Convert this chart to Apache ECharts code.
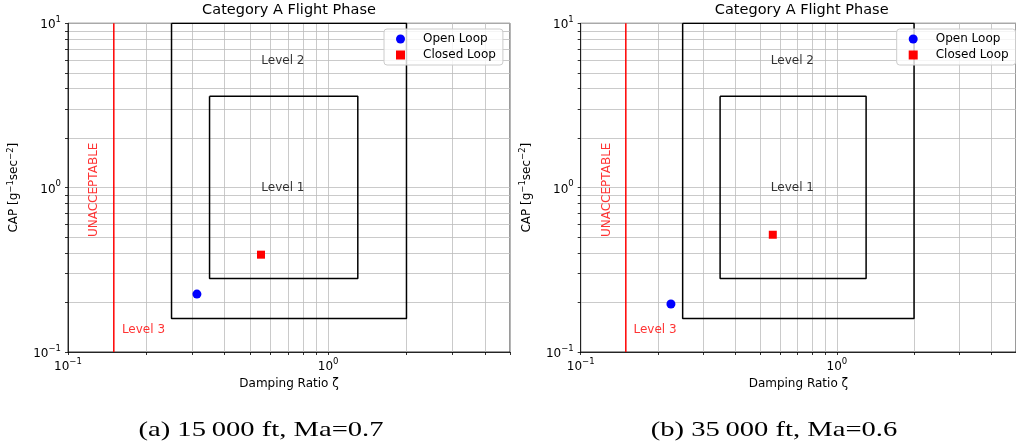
<!DOCTYPE html>
<html>
<head>
<meta charset="utf-8">
<script src="https://cdn.jsdelivr.net/npm/echarts@6/dist/echarts.min.js"></script>
<style>
  html, body { margin: 0; padding: 0; background: #fff; }
  #chart { width: 1016px; height: 448px; }
</style>
</head>
<body>
<div id="chart"></div>
<script>
// Tick positions (log axes: majors at decades, minors at 2..9 × decade)
const zetaTickValues = [0.1, 0.2, 0.3, 0.4, 0.5, 0.6, 0.7, 0.8, 0.9, 1, 2, 3, 4, 5];
const capTickValues = [0.1, 0.2, 0.3, 0.4, 0.5, 0.6, 0.7, 0.8, 0.9, 1, 2, 3, 4, 5, 6, 7, 8, 9, 10];
const zetaLabelValues = [0.1, 1];
const capLabelValues = [0.1, 1, 10];
const zetaRange = [0.1, 5];
const capRange = [0.1, 10];

// Flying-quality level boundaries (Category A)
const level1Zeta = [0.35, 1.30];
const level1Cap = [0.28, 3.6];
const level2Zeta = [0.25, 2.0];
const level2Cap = [0.16, 10];
const level3Zeta = 0.15;

// Operating points per flight condition: [damping ratio, CAP]
const openLoopA = [0.313, 0.225];
const closedLoopA = [0.552, 0.391];
const openLoopB = [0.225, 0.196];
const closedLoopB = [0.562, 0.517];

// Region annotations: [text, zeta, CAP, colour]
const levelLabels = [
  ['Level 2', 0.67, 5.9, '#000000'],
  ['Level 1', 0.67, 1.0, '#000000'],
  ['Level 3', 0.195, 0.136, '#ff0000']
];
const unacceptableLabel = ['UNACCEPTABLE', 0.126, 0.97];

const panelTitle = 'Category A Flight Phase';
const panelCaptions = ['(a) 15\u2009000 ft, Ma=0.7', '(b) 35\u2009000 ft, Ma=0.6'];
const xAxisTitle = 'Damping Ratio \u03b6';
const yAxisTitle = 'CAP [g{s|\u22121}sec{s|\u22122}]';

const FONT = 'DejaVu Sans';
const panels = [
  { left: 68, open: openLoopA, closed: closedLoopA, caption: panelCaptions[0], captionX: 261 },
  { left: 580.7, open: openLoopB, closed: closedLoopB, caption: panelCaptions[1], captionX: 774 }
];
const PLOT_W = 442, PLOT_TOP = 23.3, PLOT_H = 328.7;

function rectPath(xs, ys) {
  return [[xs[0], ys[1]], [xs[0], ys[0]], [xs[1], ys[0]], [xs[1], ys[1]], [xs[0], ys[1]]];
}
function powLabel(v) {
  const e = Math.round(Math.log10(v));
  return '{b|10}{s|' + (e < 0 ? '\u2212' + (-e) : String(e)) + '}';
}
const powRich = {
  b: { fontSize: 12, lineHeight: 16, fontFamily: FONT, color: '#000', verticalAlign: 'bottom' },
  s: { fontSize: 8.5, lineHeight: 10, fontFamily: FONT, color: '#000', verticalAlign: 'top' }
};
const nameRich = {
  s: { fontSize: 8.5, lineHeight: 10, fontFamily: FONT, color: '#000', verticalAlign: 'top' }
};
const gridLine = { show: true, lineStyle: { color: '#bdbdbd', width: 0.8 } };

const grid = [], xAxis = [], yAxis = [], series = [], title = [], legend = [], graphic = [];

panels.forEach((p, i) => {
  grid.push({
    left: p.left, top: PLOT_TOP, width: PLOT_W, height: PLOT_H,
    show: true, borderColor: '#000', borderWidth: 0.8, backgroundColor: '#fff'
  });
  xAxis.push({
    type: 'log', logBase: 10, gridIndex: i, min: zetaRange[0], max: zetaRange[1],
    name: xAxisTitle, nameLocation: 'middle', nameGap: 26,
    nameTextStyle: { fontSize: 12, fontFamily: FONT, color: '#000' },
    axisLine: { show: true, lineStyle: { color: '#000', width: 0.8 } },
    axisTick: { show: true, length: 3, customValues: zetaTickValues, lineStyle: { color: '#000', width: 0.8 } },
    axisLabel: { customValues: zetaLabelValues, margin: 5, formatter: powLabel, rich: powRich },
    splitLine: gridLine
  });
  yAxis.push({
    type: 'log', logBase: 10, gridIndex: i, min: capRange[0], max: capRange[1],
    name: yAxisTitle, nameLocation: 'middle', nameGap: 46,
    nameTextStyle: { fontSize: 12, lineHeight: 16, fontFamily: FONT, color: '#000', verticalAlign: 'bottom', rich: nameRich },
    axisLine: { show: true, lineStyle: { color: '#000', width: 0.8 } },
    axisTick: { show: true, length: 3, customValues: capTickValues, lineStyle: { color: '#000', width: 0.8 } },
    axisLabel: { customValues: capLabelValues, margin: 7, formatter: powLabel, rich: powRich },
    splitLine: gridLine
  });
  title.push({
    text: panelTitle, left: p.left + PLOT_W / 2, top: 3, textAlign: 'center', padding: 0,
    textStyle: { fontSize: 14.5, fontWeight: 'normal', fontFamily: FONT, color: '#000' }
  });
  legend.push({
    data: ['Open Loop', 'Closed Loop'],
    left: p.left + 316, top: 29, orient: 'vertical',
    itemWidth: 9, itemHeight: 9, itemGap: 4,
    padding: [4, 7, 4, 12],
    backgroundColor: 'rgba(255,255,255,0.8)', borderColor: '#cccccc', borderWidth: 1, borderRadius: 3,
    textStyle: { fontSize: 12, fontFamily: FONT, color: '#000', padding: [0, 0, 0, 13] },
    selectedMode: false
  });
  const axes = { xAxisIndex: i, yAxisIndex: i };
  series.push(
    Object.assign({ type: 'line', data: rectPath(level2Zeta, level2Cap), symbol: 'none', silent: true,
      lineStyle: { color: '#000', width: 1.5 }, z: 3 }, axes),
    Object.assign({ type: 'line', data: rectPath(level1Zeta, level1Cap), symbol: 'none', silent: true,
      lineStyle: { color: '#000', width: 1.5 }, z: 3 }, axes),
    Object.assign({ type: 'line', data: [[level3Zeta, capRange[0]], [level3Zeta, capRange[1]]], symbol: 'none', silent: true,
      lineStyle: { color: '#ff0000', width: 1.5 }, z: 3 }, axes),
    Object.assign({ type: 'scatter', symbolSize: 0, silent: true, z: 4,
      data: levelLabels.map(l => ({ value: [l[1], l[2]], name: l[0], label: { color: l[3] } })),
      label: { show: true, position: 'inside', formatter: d => d.name, fontSize: 12, fontFamily: FONT } }, axes),
    Object.assign({ type: 'scatter', symbolSize: 0, silent: true, z: 4,
      data: [{ value: [unacceptableLabel[1], unacceptableLabel[2]], name: unacceptableLabel[0] }],
      label: { show: true, position: 'inside', rotate: 90, formatter: d => d.name, fontSize: 12, fontFamily: FONT,
        color: '#ff0000' } }, axes),
    Object.assign({ name: 'Open Loop', type: 'scatter', data: [p.open], symbol: 'circle', symbolSize: 9,
      itemStyle: { color: '#0000ff', opacity: 1 }, z: 5 }, axes),
    Object.assign({ name: 'Closed Loop', type: 'scatter', data: [p.closed], symbol: 'rect', symbolSize: 8,
      itemStyle: { color: '#ff0000', opacity: 1 }, z: 5 }, axes)
  );
  graphic.push({
    type: 'text', x: p.captionX, y: 430, scaleX: 1.3,
    style: { text: p.caption, font: '22px "Liberation Serif"', fill: '#000',
      textAlign: 'center', textVerticalAlign: 'middle', align: 'center', verticalAlign: 'middle' }
  });
});

const chart = echarts.init(document.getElementById('chart'), null, { renderer: 'canvas' });
chart.setOption({
  animation: false,
  backgroundColor: '#fff',
  textStyle: { fontFamily: FONT },
  title, legend, grid, xAxis, yAxis, series, graphic
});
</script>
</body>
</html>
